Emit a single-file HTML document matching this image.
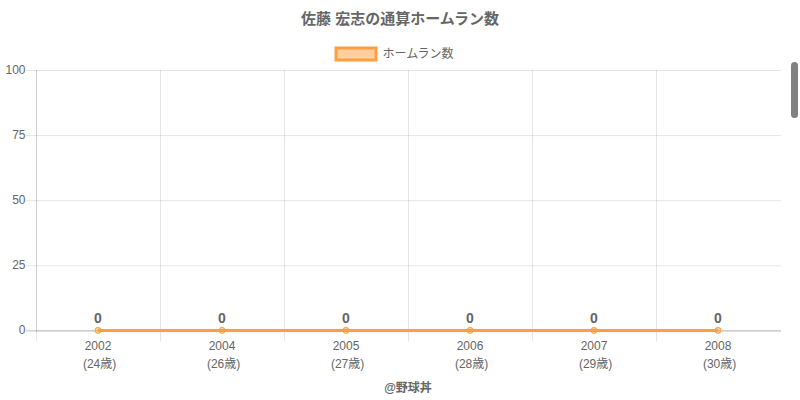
<!DOCTYPE html>
<html><head><meta charset="utf-8"><title>chart</title>
<style>html,body{margin:0;padding:0;width:800px;height:400px;overflow:hidden;background:#fff;font-family:"Liberation Sans",sans-serif}svg{display:block}</style></head>
<body>
<svg width="800" height="400" viewBox="0 0 800 400" role="img" aria-label="佐藤 宏志の通算ホームラン数">
<desc>佐藤 宏志の通算ホームラン数 / ホームラン数 / 2002 (24歳) 0, 2004 (26歳) 0, 2005 (27歳) 0, 2006 (28歳) 0, 2007 (29歳) 0, 2008 (30歳) 0 / @野球丼</desc>
<rect width="800" height="400" fill="#fff"/>
<g fill="none" stroke-width="1"><path d="M26 70.5 H781" stroke="rgba(0,0,0,0.1)"/><path d="M26 135.6 H781" stroke="rgba(0,0,0,0.1)"/><path d="M26 200.7 H781" stroke="rgba(0,0,0,0.1)"/><path d="M26 265.8 H781" stroke="rgba(0,0,0,0.1)"/><path d="M26 330.9 H36" stroke="rgba(0,0,0,0.25)"/><path d="M36 330.9 H781" stroke="rgba(0,0,0,0.325)"/><path d="M36.5 70 V331.4" stroke="rgba(0,0,0,0.19)"/><path d="M36.5 331.4 V341.4" stroke="rgba(0,0,0,0.1)"/><path d="M160.5 70 V341.4" stroke="rgba(0,0,0,0.1)"/><path d="M284.5 70 V341.4" stroke="rgba(0,0,0,0.1)"/><path d="M408.5 70 V341.4" stroke="rgba(0,0,0,0.1)"/><path d="M532.5 70 V341.4" stroke="rgba(0,0,0,0.1)"/><path d="M656.5 70 V341.4" stroke="rgba(0,0,0,0.1)"/></g>
<rect x="336" y="48" width="40" height="12" fill="rgba(255,159,64,0.5)" stroke="rgb(255,159,64)" stroke-width="3"/>
<path d="M98 330.4 H718" stroke="rgb(255,159,64)" stroke-width="3" fill="none"/>
<circle cx="98" cy="330.4" r="3" fill="rgba(255,159,64,0.5)" stroke="rgb(255,159,64)" stroke-width="1"/>
<circle cx="222" cy="330.4" r="3" fill="rgba(255,159,64,0.5)" stroke="rgb(255,159,64)" stroke-width="1"/>
<circle cx="346" cy="330.4" r="3" fill="rgba(255,159,64,0.5)" stroke="rgb(255,159,64)" stroke-width="1"/>
<circle cx="470" cy="330.4" r="3" fill="rgba(255,159,64,0.5)" stroke="rgb(255,159,64)" stroke-width="1"/>
<circle cx="594" cy="330.4" r="3" fill="rgba(255,159,64,0.5)" stroke="rgb(255,159,64)" stroke-width="1"/>
<circle cx="718" cy="330.4" r="3" fill="rgba(255,159,64,0.5)" stroke="rgb(255,159,64)" stroke-width="1"/>
<g fill="#666" font-family="&quot;Liberation Sans&quot;, &quot;Noto Sans CJK JP&quot;, sans-serif">
<text x="400" y="23.5" font-size="15" font-weight="bold" text-anchor="middle">佐藤 宏志の通算ホームラン数</text>
<text x="382.5" y="58" font-size="12">ホームラン数</text>
<text x="408" y="391.5" font-size="12" font-weight="bold" text-anchor="middle">@野球丼</text>
<g font-size="12" text-anchor="end">
<text x="25.5" y="73.5">100</text>
<text x="25.5" y="138.6">75</text>
<text x="25.5" y="203.7">50</text>
<text x="25.5" y="268.8">25</text>
<text x="25.5" y="333.9">0</text>
</g>
<g font-size="14" font-weight="bold" text-anchor="middle">
<text x="98" y="322.8">0</text>
<text x="222" y="322.8">0</text>
<text x="346" y="322.8">0</text>
<text x="470" y="322.8">0</text>
<text x="594" y="322.8">0</text>
<text x="718" y="322.8">0</text>
</g>
<g font-size="12" text-anchor="middle">
<text x="98" y="349.9">2002</text>
<text x="222" y="349.9">2004</text>
<text x="346" y="349.9">2005</text>
<text x="470" y="349.9">2006</text>
<text x="594" y="349.9">2007</text>
<text x="718" y="349.9">2008</text>
<text x="99.6" y="367.7">(24歳)</text>
<text x="223.6" y="367.7">(26歳)</text>
<text x="347.6" y="367.7">(27歳)</text>
<text x="471.6" y="367.7">(28歳)</text>
<text x="595.6" y="367.7">(29歳)</text>
<text x="719.6" y="367.7">(30歳)</text>
</g>
</g>
<rect x="791" y="62" width="7" height="56" rx="3.5" fill="#808080"/>
</svg>
</body></html>
